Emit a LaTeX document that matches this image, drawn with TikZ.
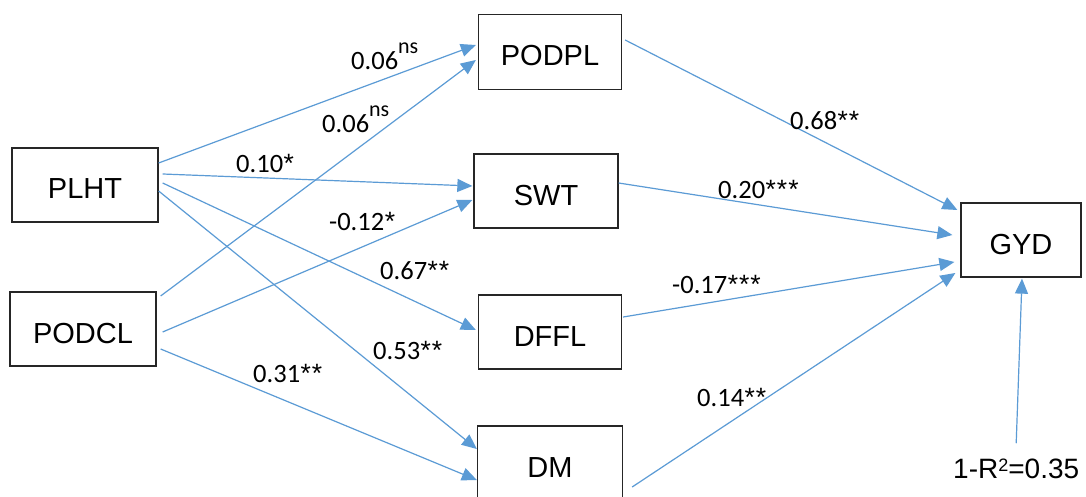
\documentclass[tikz,border=0pt]{standalone}
\usepackage{fontspec}
\setmainfont{Liberation Sans}
\newfontfamily\coeffont{Carlito}
\usetikzlibrary{arrows.meta,calc}
\definecolor{arr}{RGB}{91,155,213}
\newcommand{\supns}{\raisebox{16pt}{\fontsize{22}{22}\selectfont ns}}
\newcommand{\sig}{{\normalfont\kern0.5pt*\kern0.5pt}}
\begin{document}
\begin{tikzpicture}[x=1pt,y=-1pt,
  box/.style={draw=black!85, line width=1.3pt, inner sep=0pt,
    font=\fontsize{29}{30}\selectfont, text height=28pt, text depth=0pt,
    minimum width=144pt, minimum height=74pt},
  link/.style={draw=arr, line width=1.2pt, -{Triangle[length=15pt,width=13pt]}},
  coef/.style={anchor=base west, inner sep=0pt, font=\coeffont\fontsize{26.5}{27}\selectfont},
]
\clip (0,0) rectangle (1086,497);
\fill[white] (0,0) rectangle (1086,497);

% boxes
\node[box, minimum width=146pt] (PLHT) at (85,185) {PLHT};
\node[box, minimum width=146pt] (PODCL) at (83,329) {PODCL};
\node[box, minimum width=143pt, minimum height=75pt] (PODPL) at (550,52) {PODPL};
\node[box] (SWT) at (546,191) {SWT};
\node[box, minimum width=143pt] (DFFL) at (550,332) {DFFL};
\node[box, minimum width=145pt] (DM) at (550,463) {DM};
\node[box, minimum width=120pt] (GYD) at (1021,240) {GYD};
\node[anchor=base west, inner sep=0pt, font=\fontsize{28}{29}\selectfont] (res) at (953,478)
  {1-R\raisebox{7pt}{\fontsize{18}{18}\selectfont 2}=0.35};

% connectors
\draw[link] ($(PLHT.east)+(0,-22)$) -- ($(PODPL.west)+(-2,-7)$);
\draw[link] ($(PODCL.east)+(4,-33)$) -- ($(PODPL.west)+(-2,8)$);
\draw[link] ($(PLHT.east)+(4,-11)$) -- ($(SWT.west)+(-1,-5)$);
\draw[link] ($(PODCL.east)+(6,3)$) -- ($(SWT.west)+(-1,9)$);
\draw[link] ($(PLHT.east)+(4,-2)$) -- ($(DFFL.west)+(-2,-2)$);
\draw[link] ($(PLHT.east)+(0,6)$) -- ($(DM.west)+(0,-14)$);
\draw[link] ($(PODCL.east)+(4,20)$) -- ($(DM.west)+(0,17)$);
\draw[link] ($(PODPL.east)+(3,-12)$) -- ($(GYD.west)+(-3,-30)$);
\draw[link] ($(SWT.east)+(0,-8)$) -- ($(GYD.west)+(-8,-5)$);
\draw[link] ($(DFFL.east)+(1,-15)$) -- ($(GYD.west)+(-6,22)$);
\draw[link] ($(DM.east)+(9,24)$) -- ($(GYD.west)+(-5,33)$);
\draw[link] ($(res.north)+(0,-15)$) -- ($(GYD.south)+(1,1)$);

% coefficients
\node[coef] (c1) at (351,70) {0.06\supns};
\node[coef] (c2) at (322,133) {0.06\supns};
\node[coef] (c3) at (236,173) {0.10\sig};
\node[coef] (c4) at (329,230) {-0.12\sig};
\node[coef] (c5) at (380,279) {0.67\sig\sig};
\node[coef] (c6) at (373,359) {0.53\sig\sig};
\node[coef] (c7) at (253,382) {0.31\sig\sig};
\node[coef] (c8) at (790,130) {0.68\sig\sig};
\node[coef] (c9) at (718,198) {0.20\sig\sig\sig};
\node[coef] (c10) at (672,293) {-0.17\sig\sig\sig};
\node[coef] (c11) at (697,406) {0.14\sig\sig};
\end{tikzpicture}
\end{document}
